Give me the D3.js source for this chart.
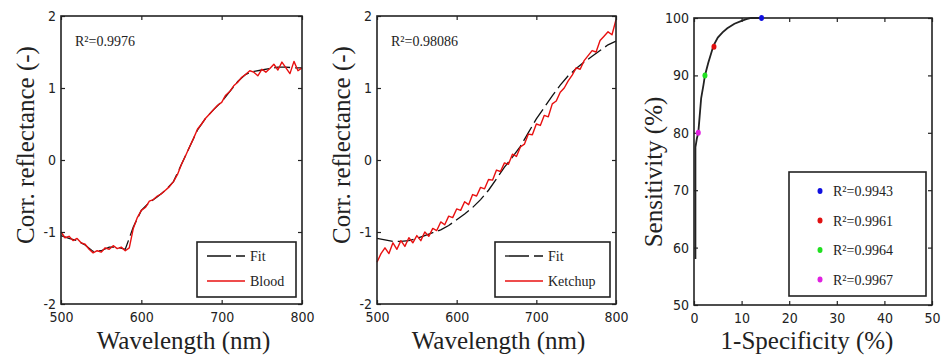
<!DOCTYPE html>
<html><head><meta charset="utf-8">
<script src="https://cdn.jsdelivr.net/npm/d3@7"></script>
<style>
html,body{margin:0;padding:0;background:#fff;}
svg{display:block;}
.tick text{font-family:"Liberation Sans Narrow","DejaVu Sans Condensed",sans-serif;font-size:14px;fill:#222;}
</style></head>
<body>
<script>
// ---- data ----
const waveMeas = [500,505,510,515,520,525,530,535,540,545,550,555,560,565,570,575,580,585,590,595,600,605,610,615,620,625,630,635,640,645,650,655,660,665,670,675,680,685,690,695,700,705,710,715,720,725,730,735,740,745,750,755,760,765,770,775,780,785,790,795,800];
const bloodMeas = [-1.00,-1.08,-1.06,-1.12,-1.09,-1.15,-1.17,-1.24,-1.29,-1.26,-1.28,-1.22,-1.24,-1.19,-1.23,-1.21,-1.26,-1.22,-0.95,-0.80,-0.70,-0.66,-0.57,-0.55,-0.50,-0.47,-0.42,-0.37,-0.30,-0.20,-0.06,0.06,0.18,0.30,0.43,0.50,0.58,0.64,0.70,0.76,0.80,0.90,0.95,1.03,1.08,1.15,1.19,1.24,1.22,1.17,1.26,1.22,1.27,1.33,1.25,1.36,1.28,1.20,1.37,1.24,1.28];
const ketchupMeas = [-1.42,-1.30,-1.22,-1.30,-1.15,-1.24,-1.12,-1.20,-1.08,-1.15,-1.05,-1.12,-1.00,-1.06,-0.95,-0.98,-0.86,-0.90,-0.78,-0.80,-0.68,-0.70,-0.58,-0.62,-0.48,-0.50,-0.38,-0.40,-0.27,-0.28,-0.14,-0.16,-0.04,-0.06,0.08,0.05,0.18,0.22,0.36,0.35,0.50,0.48,0.62,0.60,0.78,0.82,0.94,1.00,1.10,1.18,1.28,1.26,1.38,1.45,1.52,1.50,1.66,1.72,1.78,1.74,1.95];
const waveFit = [500,510,520,530,540,550,560,570,580,590,600,610,620,630,640,650,660,670,680,690,700,710,720,730,740,750,760,770,780,790,800];
const bloodFit = [-1.05,-1.09,-1.12,-1.18,-1.27,-1.26,-1.21,-1.21,-1.24,-0.93,-0.70,-0.59,-0.51,-0.42,-0.30,-0.06,0.18,0.42,0.58,0.70,0.81,0.95,1.09,1.19,1.23,1.25,1.27,1.29,1.29,1.28,1.28];
const ketchupFit = [-1.09,-1.11,-1.13,-1.13,-1.12,-1.09,-1.05,-1.01,-0.97,-0.91,-0.83,-0.75,-0.66,-0.55,-0.42,-0.26,-0.10,0.04,0.19,0.38,0.57,0.73,0.89,1.04,1.17,1.27,1.36,1.44,1.52,1.60,1.65];
const rocFpr = [0.3,0.3,0.4,0.6,0.9,1.2,1.5,2.0,2.3,3.0,4.1,5.0,6.0,7.0,8.5,10,11,12,14.2];
const rocSens = [58,77.5,78,79,80,83,86,88.4,90,92.2,95.2,96.6,97.5,98.2,99,99.5,99.8,100,100];
const opFpr = [14.2,4.2,2.3,0.9];
const opSens = [100,95,90,80];
const opLabels = ["R²=0.9943","R²=0.9961","R²=0.9964","R²=0.9967"];
const opColors = ["#1010e0","#e01010","#20e020","#e020e0"];
const wlTicks = [500,600,700,800];
const reflTicks = [-2,-1,0,1,2];
const fprTicks = [0,10,20,30,40,50];
const sensTicks = [50,60,70,80,90,100];

const SERIF = "'Liberation Serif','Times New Roman',serif";
const svg = d3.select("body").append("svg").attr("width",941).attr("height",356);
svg.append("rect").attr("width",941).attr("height",356).attr("fill","#fff");

function frame(g, x, y, xt, yt, W, H){
  const T=4, fmt = d => String(d);
  g.append("g").attr("transform",`translate(0,${H})`)
    .call(d3.axisBottom(x).tickValues(xt).tickFormat(fmt).tickSizeInner(-T).tickSizeOuter(0).tickPadding(8));
  g.append("g").call(d3.axisLeft(y).tickValues(yt).tickFormat(fmt).tickSizeInner(-T).tickSizeOuter(0).tickPadding(5));
  g.append("g").call(d3.axisTop(x).tickValues(xt).tickSizeInner(-T).tickSizeOuter(0).tickFormat(""));
  g.append("g").attr("transform",`translate(${W},0)`)
    .call(d3.axisRight(y).tickValues(yt).tickSizeInner(-T).tickSizeOuter(0).tickFormat(""));
  g.selectAll(".domain").remove();
  g.selectAll(".tick line").attr("stroke","#222").attr("stroke-width",1.2);
  g.append("rect").attr("width",W).attr("height",H).attr("fill","none").attr("stroke","#222").attr("stroke-width",1.6);
}

function label(t, size){
  return svg.append("text").attr("font-family",SERIF).attr("fill","#222").attr("font-size",size).attr("text-anchor","middle").text(t);
}

function spectrumPanel(x0, x1, measVals, fitVals, r2, name, legW){
  const top=16, bot=304, W=x1-x0, H=bot-top;
  const g = svg.append("g").attr("transform",`translate(${x0},${top})`);
  const x = d3.scaleLinear().domain([500,800]).range([0,W]);
  const y = d3.scaleLinear().domain([-2,2]).range([H,0]);
  const line = d3.line().x(d=>x(d[0])).y(d=>y(d[1]));
  g.append("path").datum(waveFit.map((w,i)=>[w,fitVals[i]])).attr("d",line)
    .attr("fill","none").attr("stroke","#111").attr("stroke-width",1.3).attr("stroke-dasharray","16,5");
  g.append("path").datum(waveMeas.map((w,i)=>[w,measVals[i]])).attr("d",line)
    .attr("fill","none").attr("stroke","#e81010").attr("stroke-width",1.4).attr("stroke-linejoin","round");
  frame(g,x,y,wlTicks,reflTicks,W,H);
  g.append("text").attr("font-family",SERIF).attr("fill","#222").attr("x",14).attr("y",30).attr("font-size",14)
    .text("R²="+r2);
  // legend
  const lx=W-legW-6, ly=226, lh=55;
  const lg=g.append("g").attr("transform",`translate(${lx},${ly})`);
  lg.append("rect").attr("width",legW).attr("height",lh).attr("fill","#fff").attr("stroke","#222").attr("stroke-width",1.6);
  lg.append("line").attr("x1",10).attr("x2",48).attr("y1",14).attr("y2",14).attr("stroke","#111").attr("stroke-width",1.3).attr("stroke-dasharray","24,5");
  lg.append("line").attr("x1",10).attr("x2",48).attr("y1",39).attr("y2",39).attr("stroke","#e81010").attr("stroke-width",1.4);
  lg.append("text").attr("font-family",SERIF).attr("fill","#222").attr("x",53).attr("y",19).attr("font-size",14).text("Fit");
  lg.append("text").attr("font-family",SERIF).attr("fill","#222").attr("x",53).attr("y",44).attr("font-size",14).text(name);
  // axis labels
  label("Wavelength (nm)",25).attr("x",x0+W/2+2).attr("y",349);
  label("Corr. reflectance  (-)",25).attr("transform",`translate(${x0-27},${top+129}) rotate(-90)`);
}

spectrumPanel(61,302,bloodMeas,bloodFit,"0.9976","Blood",99);
spectrumPanel(377,616,ketchupMeas,ketchupFit,"0.98086","Ketchup",115);

// ROC panel
(function(){
  const x0=694, x1=932, top=18, bot=305, W=x1-x0, H=bot-top;
  const g = svg.append("g").attr("transform",`translate(${x0},${top})`);
  const x = d3.scaleLinear().domain([0,50]).range([0,W]);
  const y = d3.scaleLinear().domain([50,100]).range([H,0]);
  frame(g,x,y,fprTicks,sensTicks,W,H);
  g.append("path").datum(rocFpr.map((f,i)=>[f,rocSens[i]]))
    .attr("d",d3.line().x(d=>x(d[0])).y(d=>y(d[1])))
    .attr("fill","none").attr("stroke","#222").attr("stroke-width",1.8);
  g.selectAll("ellipse.op").data(opFpr).enter().append("ellipse")
    .attr("cx",(d)=>x(d)).attr("cy",(d,i)=>y(opSens[i])).attr("rx",2.5).attr("ry",3)
    .attr("fill",(d,i)=>opColors[i]);
  const lg=g.append("g").attr("transform",`translate(95,154)`);
  lg.append("rect").attr("width",137).attr("height",124).attr("fill","#fff").attr("stroke","#222").attr("stroke-width",1.6);
  opLabels.forEach((t,i)=>{
    const yy=19+i*29.5;
    lg.append("ellipse").attr("cx",31).attr("cy",yy).attr("rx",2.5).attr("ry",3).attr("fill",opColors[i]);
    lg.append("text").attr("font-family",SERIF).attr("fill","#222").attr("x",44).attr("y",yy+5).attr("font-size",14).text(t);
  });
  label("1-Specificity (%)",25).attr("x",x0+W/2-6).attr("y",349);
  label("Sensitivity (%)",25).attr("transform",`translate(${x0-32},${top+154}) rotate(-90)`);
})();
</script>
</body></html>
